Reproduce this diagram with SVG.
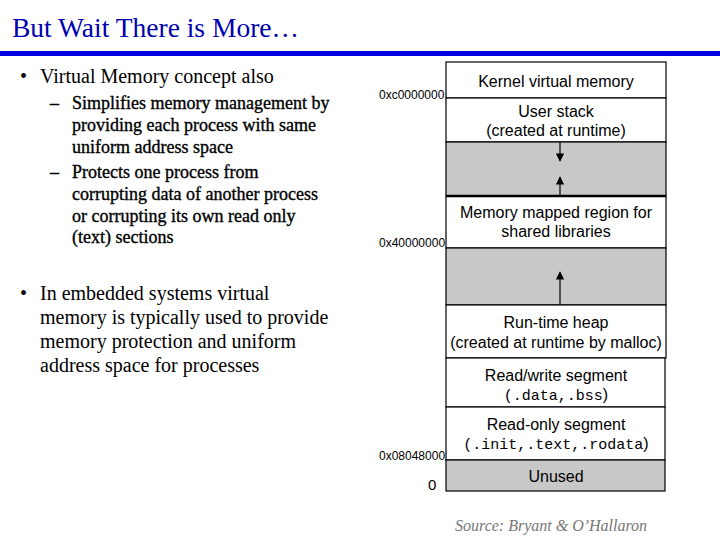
<svg xmlns="http://www.w3.org/2000/svg" width="720" height="540" viewBox="0 0 720 540">
<style>
.t{font-family:"Liberation Serif","Times New Roman",serif;fill:#000}
.b{font-size:20px}
.s{font-size:18px;stroke:#000;stroke-width:0.35}
.box{stroke:#000;stroke-width:1.2}
.w{fill:#fff}
.g{fill:#c8c8c8}
.lbl{font-family:"Liberation Sans",Arial,sans-serif;font-size:16px;text-anchor:middle;fill:#000}
.mono{font-family:"Liberation Mono","Courier New",monospace;font-size:15px}
.addr{font-family:"Liberation Sans",Arial,sans-serif;font-size:12px;fill:#000}
.arr{stroke:#000;stroke-width:1.2;fill:none}
</style>
<defs>
<marker id="ah" viewBox="0 0 10 10" refX="9" refY="5" markerWidth="7" markerHeight="7" orient="auto">
<path d="M0,0 L10,5 L0,10 z" fill="#000"/>
</marker>
</defs>
<rect width="720" height="540" fill="#fff"/>
<text x="12" y="37" font-family="'Liberation Serif','Times New Roman',serif" font-size="27.5" fill="#0000b0">But Wait There is More…</text>
<rect x="0" y="51" width="720" height="5" fill="#0000e0"/>

<g id="bullets">
<text class="t b" x="20" y="83">•</text>
<text class="t b" x="40" y="83">Virtual Memory concept also</text>
<text class="t s" x="50" y="109">–</text>
<text class="t s" x="72" y="109">Simplifies memory management by</text>
<text class="t s" x="72" y="131">providing each process with same</text>
<text class="t s" x="72" y="153">uniform address space</text>
<text class="t s" x="50" y="178">–</text>
<text class="t s" x="72" y="178">Protects one process from</text>
<text class="t s" x="72" y="200">corrupting data of another process</text>
<text class="t s" x="72" y="222">or corrupting its own read only</text>
<text class="t s" x="72" y="243">(text) sections</text>
<text class="t b" x="20" y="300">•</text>
<text class="t b" x="40" y="300">In embedded systems virtual</text>
<text class="t b" x="40" y="324">memory is typically used to provide</text>
<text class="t b" x="40" y="348">memory protection and uniform</text>
<text class="t b" x="40" y="372">address space for processes</text>
</g>

<g id="kernel"><rect class="box w" x="446" y="62" width="220" height="36"/><text class="lbl" x="556" y="87">Kernel virtual memory</text></g>
<g id="userstack"><rect class="box w" x="446" y="98" width="220" height="44"/><text class="lbl" x="556" y="117">User stack</text><text class="lbl" x="556" y="136">(created at runtime)</text></g>
<g id="gap1"><rect class="box g" x="446" y="142" width="220" height="54"/></g>
<g id="mmap"><rect class="box w" x="446" y="196" width="220" height="52"/><line x1="446" y1="196" x2="666" y2="196" stroke="#000" stroke-width="2.5"/><text class="lbl" x="556" y="218">Memory mapped region for</text><text class="lbl" x="556" y="237">shared libraries</text></g>
<g id="gap2"><rect class="box g" x="446" y="248" width="220" height="57"/></g>
<g id="heap"><rect class="box w" x="446" y="305" width="220" height="53"/><text class="lbl" x="556" y="328">Run-time heap</text><text class="lbl" x="556" y="348">(created at runtime by malloc)</text></g>
<g id="rw"><rect class="box w" x="446" y="358" width="219" height="49"/><text class="lbl" x="556" y="381">Read/write segment</text><text class="lbl" x="556" y="400"><tspan class="mono">(.data,.bss</tspan>)</text></g>
<g id="ro"><rect class="box w" x="446" y="407" width="219" height="53"/><text class="lbl" x="556" y="430">Read-only segment</text><text class="lbl" x="556" y="449"><tspan class="mono">(.init,.text,.rodata</tspan>)</text></g>
<g id="unused"><rect class="box g" x="446" y="460" width="219" height="31"/><text class="lbl" x="556" y="482">Unused</text></g>

<g id="connectors">
<line class="arr" x1="560" y1="142" x2="560" y2="161" marker-end="url(#ah)"/>
<line class="arr" x1="560" y1="196" x2="560" y2="177" marker-end="url(#ah)"/>
<line class="arr" x1="560" y1="305" x2="560" y2="272" marker-end="url(#ah)"/>
</g>

<g id="addresses">
<text class="addr" x="379" y="99">0xc0000000</text>
<text class="addr" x="379" y="247">0x40000000</text>
<text class="addr" x="379" y="460">0x08048000</text>
<text x="428" y="490" font-family="'Liberation Sans',Arial,sans-serif" font-size="15" fill="#000">0</text>
</g>

<text x="455" y="531" font-family="'Liberation Serif','Times New Roman',serif" font-style="italic" font-size="16" fill="#777">Source: Bryant &amp; O’Hallaron</text>
</svg>
